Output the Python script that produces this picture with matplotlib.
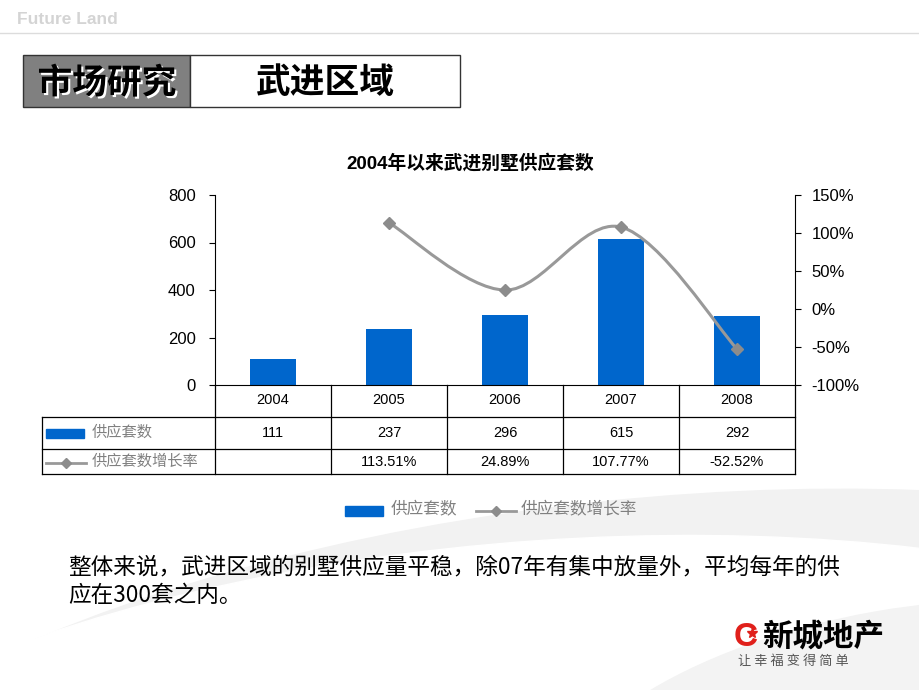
import numpy as np
import matplotlib.pyplot as plt
from matplotlib.patches import Rectangle, Ellipse, PathPatch
from matplotlib.path import Path
import matplotlib.patheffects as pe

plt.rcParams['font.family'] = ['Liberation Sans', 'Noto Sans CJK SC', 'DejaVu Sans']

years = ['2004', '2005', '2006', '2007', '2008']
supply = [111, 237, 296, 615, 292]
growth = [None, 113.51, 24.89, 107.77, -52.52]
growth_labels = ['', '113.51%', '24.89%', '107.77%', '-52.52%']
left_ticks = [0, 200, 400, 600, 800]
right_ticks = [-100, -50, 0, 50, 100, 150]

BLUE = '#0066cc'
GRAY = '#999999'
CJK = ['Noto Sans CJK SC', 'DejaVu Sans']

fig = plt.figure(figsize=(9.2, 6.9), dpi=100)

# overlay in pixel coordinates for the slide decoration and table
ov = fig.add_axes([0, 0, 1, 1], zorder=0)
ov.set_xlim(0, 920)
ov.set_ylim(690, 0)
ov.axis('off')

# faint background swoosh
ov.add_patch(Ellipse((640, 880), 1900, 760, angle=-6, color='#f2f2f2', zorder=0))
ov.add_patch(Ellipse((560, 900), 1800, 720, angle=-4, color='white', zorder=0))
ov.add_patch(Ellipse((900, 760), 700, 300, angle=-10, color='#f3f3f3', zorder=0))

ov.text(17, 20, 'Future Land', fontsize=12.5, fontweight='bold', color='#d4d4d4', va='center')
ov.plot([0, 920], [33, 33], color='#dcdcdc', lw=1)

ov.add_patch(Rectangle((23, 55), 167, 52, facecolor='#808080', edgecolor='#333333', lw=1))
ov.add_patch(Rectangle((190, 55), 270, 52, facecolor='white', edgecolor='#333333', lw=1))
ov.text(107, 83, '市场研究', fontsize=25, fontweight='bold', family=CJK, ha='center', va='center',
        color='black', path_effects=[pe.withSimplePatchShadow(offset=(1.5, -1.5), shadow_rgbFace='white', alpha=1)])
ov.text(325, 83, '武进区域', fontsize=25, fontweight='bold', family=CJK, ha='center', va='center')

ov.text(470, 163, '2004年以来武进别墅供应套数', fontsize=13.5, fontweight='bold', ha='center', va='center')

# chart
ax = fig.add_axes([215 / 920, 1 - 385 / 690, 580 / 920, 190 / 690], zorder=2)
ax.patch.set_alpha(0)
x = np.arange(len(years))
ax.bar(x, supply, width=0.4, color=BLUE, zorder=2)
ax.set_xlim(-0.5, len(years) - 0.5)
ax.set_ylim(0, 800)
ax.set_yticks(left_ticks)
ax.set_xticks([])
ax.spines['top'].set_visible(False)
ax.spines['right'].set_visible(False)
ax.tick_params(axis='y', labelsize=12, direction='out', length=4, pad=10, colors='black')

ax2 = ax.twinx()
ax2.set_ylim(-100, 150)
ax2.set_yticks(right_ticks)
ax2.set_yticklabels([f'{t}%' for t in right_ticks])
ax2.spines['top'].set_visible(False)
ax2.spines['left'].set_visible(False)
ax2.spines['bottom'].set_visible(False)
ax2.tick_params(axis='y', labelsize=12, direction='out', length=4, pad=8)

# smoothed growth line (Catmull-Rom style bezier through the data points)
gx = [i for i, g in enumerate(growth) if g is not None]
gy = [g for g in growth if g is not None]
pts = np.column_stack([gx, gy]).astype(float)
ext = np.vstack([pts[0], pts, pts[-1]])
verts = [tuple(pts[0])]
codes = [Path.MOVETO]
for i in range(len(pts) - 1):
    p0, p1, p2, p3 = ext[i], ext[i + 1], ext[i + 2], ext[i + 3]
    c1 = p1 + (p2 - p0) / 6
    c2 = p2 - (p3 - p1) / 6
    verts += [tuple(c1), tuple(c2), tuple(p2)]
    codes += [Path.CURVE4] * 3
ax2.add_patch(PathPatch(Path(verts, codes), facecolor='none', edgecolor=GRAY, lw=2.2, zorder=3))
ax2.plot(gx, gy, linestyle='none', marker='D', markersize=6, color='#8c8c8c', zorder=4)

# data table
col_w = 116
left = 215
edges = [left + i * col_w for i in range(len(years) + 1)]
tc = 'black'
for xe in edges:
    ov.plot([xe, xe], [385, 474], color=tc, lw=0.9)
ov.plot([42, 42], [417, 474], color=tc, lw=0.9)
for ye in [417, 449, 474]:
    ov.plot([42, 795], [ye, ye], color=tc, lw=0.9)
for i, yr in enumerate(years):
    cx = left + col_w * (i + 0.5)
    ov.text(cx, 400, yr, fontsize=10.5, ha='center', va='center')
    ov.text(cx, 433, str(supply[i]), fontsize=10.5, ha='center', va='center')
    ov.text(cx, 462, growth_labels[i], fontsize=10.5, ha='center', va='center')

ov.add_patch(Rectangle((46, 429), 38, 9, color=BLUE))
ov.text(92, 432, '供应套数', fontsize=11, family=CJK, color='#808080', va='center')
ov.plot([46, 86], [463, 463], color=GRAY, lw=2)
ov.plot([66], [463], marker='D', markersize=5, color='#8c8c8c')
ov.text(92, 461, '供应套数增长率', fontsize=11, family=CJK, color='#808080', va='center')

# bottom legend
ov.add_patch(Rectangle((345, 506), 38, 10, color=BLUE))
ov.text(391, 510, '供应套数', fontsize=12, family=CJK, color='#808080', va='center')
ov.plot([476, 516], [511, 511], color=GRAY, lw=2)
ov.plot([496], [511], marker='D', markersize=5, color='#8c8c8c')
ov.text(521, 510, '供应套数增长率', fontsize=12, family=CJK, color='#808080', va='center')

# commentary
ov.text(68, 567, '整体来说，武进区域的别墅供应量平稳，除07年有集中放量外，平均每年的供',
        fontsize=16.3, family=CJK, va='center')
ov.text(68, 595, '应在300套之内。', fontsize=16.3, family=CJK, va='center')

# logo
ov.text(734, 637, 'C', fontsize=24, fontweight='bold', color='#e0201b', va='center')
ov.plot([752], [633], marker='*', markersize=7, color='#e0201b')
ov.text(762, 637, '新城地产', fontsize=22, fontweight='bold', family=CJK, va='center')
ov.text(738, 661, '让 幸 福 变 得 简 单', fontsize=9.5, family=CJK, color='#555555', va='center')

fig.savefig('out.png', dpi=100)
